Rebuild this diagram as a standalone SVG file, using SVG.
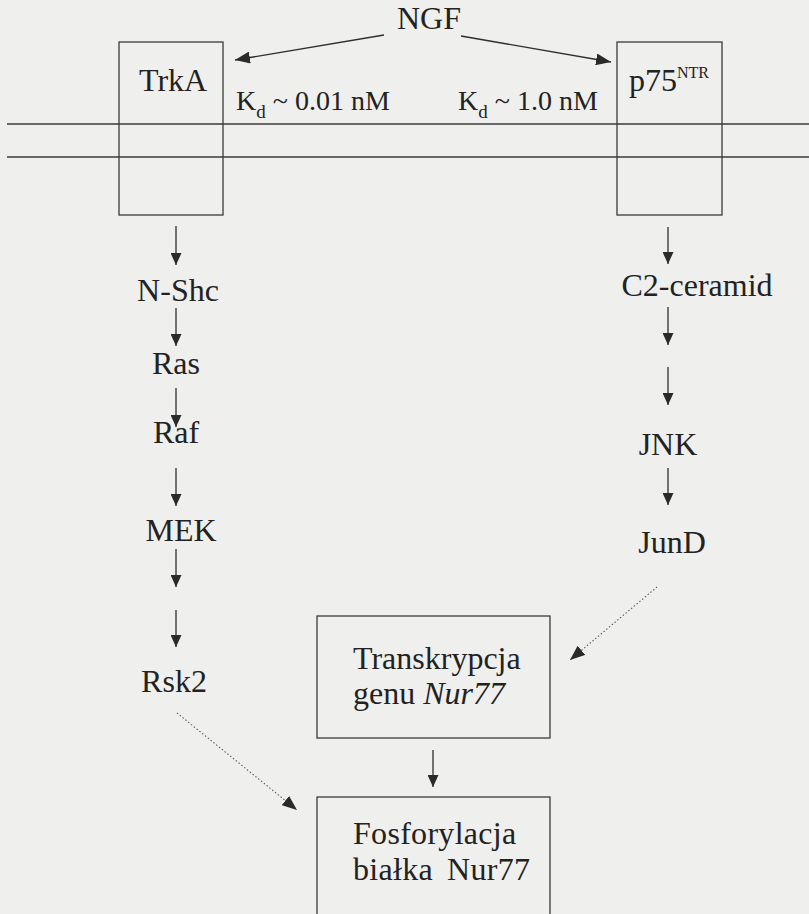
<svg xmlns="http://www.w3.org/2000/svg" width="809" height="914" viewBox="0 0 809 914">
  <style>
    .bg { fill: #efefed; }
    .box { fill: none; stroke: #3a3a3a; stroke-width: 1.3; }
    .mem { fill: none; stroke: #3a3a3a; stroke-width: 1.4; }
    .lbl { font-family: "Liberation Serif", "Times New Roman", serif; font-size: 32px; fill: #222222; }
    .kd { font-family: "Liberation Serif", "Times New Roman", serif; font-size: 28px; fill: #222222; }
    .sub { font-size: 19px; }
    .sup { font-size: 16px; }
    .link { fill: none; stroke: #2e2e2e; stroke-width: 1.3; }
    .dot { fill: none; stroke: #555555; stroke-width: 1.1; stroke-dasharray: 1.4 2.2; }
  </style>
  <defs>
    <marker id="head" markerUnits="userSpaceOnUse" markerWidth="12" markerHeight="11" refX="12" refY="5.5" orient="auto">
      <path d="M0,0 L12,5.5 L0,11 z" fill="#2a2a2a"/>
    </marker>
    <marker id="headL" markerUnits="userSpaceOnUse" markerWidth="15" markerHeight="12" refX="15" refY="6" orient="auto">
      <path d="M0,0 L15,6 L0,12 z" fill="#2a2a2a"/>
    </marker>
  </defs>

  <rect class="bg" x="0" y="0" width="809" height="914"/>

  <!-- cell membrane -->
  <g id="membrane">
    <line class="mem" x1="7" y1="124" x2="809" y2="124"/>
    <line class="mem" x1="7" y1="157" x2="809" y2="157"/>
  </g>

  <g id="ngf">
    <text class="lbl" x="429" y="29" text-anchor="middle" font-size="30">NGF</text>
  </g>

  <g id="trka">
    <rect class="box" x="119" y="42" width="104" height="173"/>
    <text class="lbl" x="139" y="91" font-size="30">TrkA</text>
  </g>

  <g id="p75ntr">
    <rect class="box" x="617" y="42" width="105" height="173"/>
    <text class="lbl" x="629" y="91" font-size="30">p75<tspan class="sup" dy="-13">NTR</tspan></text>
  </g>

  <g id="kd-trka">
    <text class="kd" x="236" y="110">K<tspan class="sub" dy="8">d</tspan><tspan dy="-8"> ~ 0.01 nM</tspan></text>
  </g>

  <g id="kd-p75">
    <text class="kd" x="458" y="110">K<tspan class="sub" dy="8">d</tspan><tspan dy="-8"> ~ 1.0 nM</tspan></text>
  </g>

  <g id="n-shc"><text class="lbl" x="178" y="301" text-anchor="middle">N-Shc</text></g>
  <g id="ras"><text class="lbl" x="176" y="374" text-anchor="middle">Ras</text></g>
  <g id="raf"><text class="lbl" x="176" y="443" text-anchor="middle">Raf</text></g>
  <g id="mek"><text class="lbl" x="181" y="541" text-anchor="middle">MEK</text></g>
  <g id="rsk2"><text class="lbl" x="174" y="692" text-anchor="middle">Rsk2</text></g>

  <g id="c2-ceramid"><text class="lbl" x="697" y="296" text-anchor="middle">C2-ceramid</text></g>
  <g id="jnk"><text class="lbl" x="668" y="455" text-anchor="middle">JNK</text></g>
  <g id="jund"><text class="lbl" x="672" y="553" text-anchor="middle">JunD</text></g>

  <g id="transkrypcja">
    <rect class="box" x="317" y="616" width="233" height="122"/>
    <text class="lbl" x="353" y="669">Transkrypcja</text>
    <text class="lbl" x="353" y="704">genu <tspan font-style="italic">Nur77</tspan></text>
  </g>

  <g id="fosforylacja">
    <rect class="box" x="317" y="797" width="233" height="130"/>
    <text class="lbl" x="353" y="844" letter-spacing="0.3">Fosforylacja</text>
    <text class="lbl" x="353" y="880" letter-spacing="0.3">białka<tspan x="447">Nur77</tspan></text>
  </g>

  <g id="connectors">
    <!-- ligand binding -->
    <line class="link" x1="384" y1="35" x2="235" y2="60" marker-end="url(#headL)"/>
    <line class="link" x1="461" y1="36" x2="611" y2="62" marker-end="url(#headL)"/>
    <!-- TrkA cascade -->
    <line class="link" x1="176" y1="226" x2="176" y2="265" marker-end="url(#head)"/>
    <line class="link" x1="176" y1="308" x2="176" y2="346" marker-end="url(#head)"/>
    <line class="link" x1="176" y1="388" x2="176" y2="427" marker-end="url(#head)"/>
    <line class="link" x1="176" y1="468" x2="176" y2="506" marker-end="url(#head)"/>
    <line class="link" x1="176" y1="549" x2="176" y2="587" marker-end="url(#head)"/>
    <line class="link" x1="176" y1="610" x2="176" y2="647" marker-end="url(#head)"/>
    <!-- p75 cascade -->
    <line class="link" x1="668" y1="227" x2="668" y2="264" marker-end="url(#head)"/>
    <line class="link" x1="668" y1="307" x2="668" y2="345" marker-end="url(#head)"/>
    <line class="link" x1="668" y1="367" x2="668" y2="405" marker-end="url(#head)"/>
    <line class="link" x1="668" y1="468" x2="668" y2="505" marker-end="url(#head)"/>
    <!-- transcription to phosphorylation -->
    <line class="link" x1="433" y1="750" x2="433" y2="787" marker-end="url(#head)"/>
    <!-- indirect effects -->
    <line class="dot" x1="177" y1="713" x2="297" y2="810" marker-end="url(#headL)"/>
    <line class="dot" x1="657" y1="587" x2="570" y2="660" marker-end="url(#headL)"/>
  </g>
</svg>
